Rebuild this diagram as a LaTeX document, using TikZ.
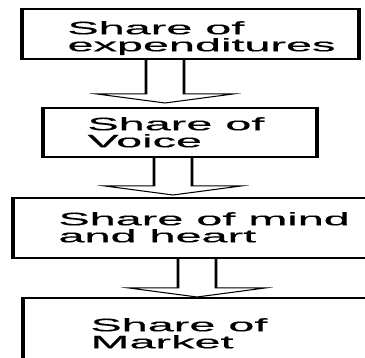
\documentclass[tikz,border=0pt]{standalone}
\usepackage{fontspec}
\usepackage{tikz}
\usetikzlibrary{positioning, calc}
\setmainfont[FakeBold=0.35]{Liberation Sans}

% hollow block arrow: #1 box above, #2 tip coordinate
\newcommand{\blockarrow}[2]{%
  \draw[hollow] ($(#2 |- #1.south)+(-19,0)$) |- ($(#2)+(-68,-9)$) -- (#2)
    -- ($(#2)+(68,-9)$) -| ($(#2 |- #1.south)+(19,0)$);}

\begin{document}
\begin{tikzpicture}[x=1pt, y=-1pt,
    box/.style={draw, rectangle, line width=1.2pt, inner sep=0pt},
    txt/.style={anchor=north west, inner sep=0pt, align=left,
      font=\fontsize{18}{17}\selectfont},
    hollow/.style={draw, line width=1pt, line join=miter}]
        \useasboundingbox (0,0) rectangle (365,358);
        % everything is stretched sideways, as in the picture
        \begin{scope}[transform canvas={xscale=2.6}, x=1pt/2.6]
        \clip (0,0) rectangle (365,358);

        \node (b1) [box, minimum width=337pt/2.6, minimum height=50pt] at (190.5,34) {};
        \node (b2) [box, minimum width=274pt/2.6, minimum height=49pt] at (180,132.5) {};
        \node (b3) [box, minimum width=360pt/2.6, minimum height=60pt] at (193,228) {};
        \node (b4) [box, minimum width=360pt/2.6, minimum height=80pt] at (203,338) {};

        \node (t1) [txt] at (67,21) {Share of\\expenditures};
        \node (t2) [txt] at (87,117) {Share of\\Voice};
        \node (t3) [txt] at (58,212) {Share of mind\\and heart};
        \node (t4) [txt] at (90,318) {Share of\\Market};

        \coordinate (tip1) at (165,103);
        \coordinate (tip2) at (173,195);
        \coordinate (tip3) at (197,297);

        \blockarrow{b1}{tip1}
        \blockarrow{b2}{tip2}
        \blockarrow{b3}{tip3}
        \end{scope}
    \end{tikzpicture}
\end{document}
